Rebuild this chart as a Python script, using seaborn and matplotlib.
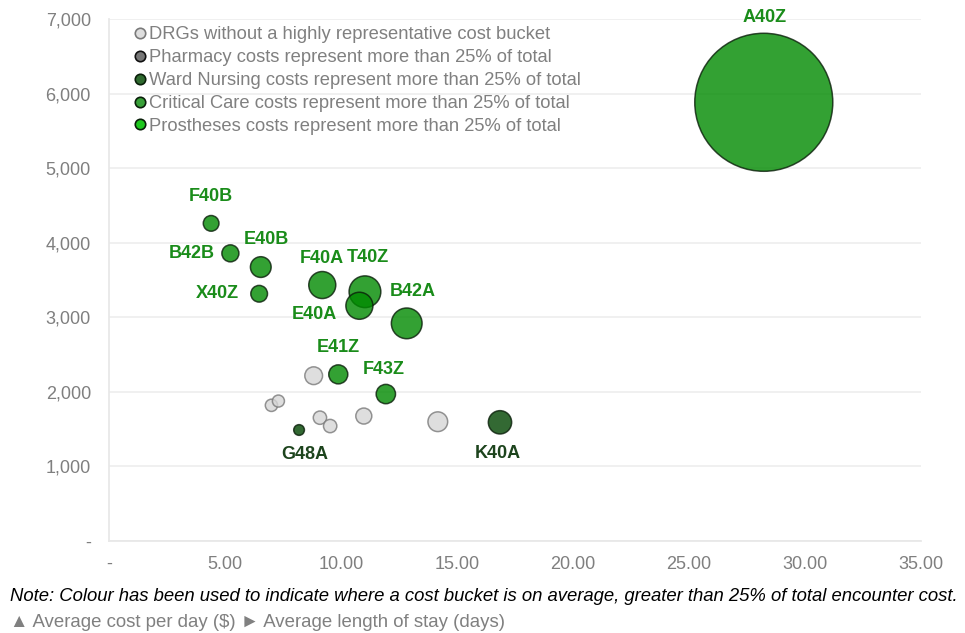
import pandas as pd
import matplotlib
matplotlib.use("Agg")
import matplotlib.pyplot as plt
import seaborn as sns
from matplotlib.lines import Line2D
from matplotlib.ticker import FuncFormatter

sns.set_theme(style="white")
plt.rcParams['font.family'] = ['Liberation Sans', 'DejaVu Sans']

# data
drg = ["A40Z", "F40B", "B42B", "E40B", "X40Z", "F40A", "T40Z", "E40A", "B42A",
       "E41Z", "F43Z", "", "", "", "", "", "", "", "G48A", "K40A"]
los = [28.22, 4.40, 5.23, 6.54, 6.47, 9.19, 11.03, 10.79, 12.83,
       9.88, 11.93, 8.82, 7.00, 7.30, 9.09, 9.53, 10.98, 14.17, 8.19, 16.85]
cost_per_day = [5884, 4260, 3858, 3674, 3316, 3433, 3343, 3155, 2919,
                2235, 1971, 2217, 1820, 1877, 1654, 1542, 1676, 1600, 1489, 1592]
volume = [1000, 12.9, 15.2, 22.5, 14.6, 38.3, 52.8, 38.3, 49.5,
          19.0, 19.6, 16.5, 7.9, 7.6, 9.3, 9.3, 13.4, 20.4, 6.0, 28.5]
group = ["crit"] * 11 + ["none"] * 7 + ["ward"] * 2

legend_labels = {
    "none": "DRGs without a highly representative cost bucket",
    "pharm": "Pharmacy costs represent more than 25% of total",
    "ward": "Ward Nursing costs represent more than 25% of total",
    "crit": "Critical Care costs represent more than 25% of total",
    "pros": "Prostheses costs represent more than 25% of total",
}
fill = {"none": "#d6d6d6", "pharm": "#555555", "ward": "#004400",
        "crit": "#008a00", "pros": "#00c800"}
edge = {"none": "#7a7a7a", "pharm": "#111111", "ward": "#0a1f0a",
        "crit": "#0a1f0a", "pros": "#0a1f0a"}
legend_fill = {"none": "#dedede", "pharm": "#777777", "ward": "#2f6a2f",
               "crit": "#38a038", "pros": "#1ec81e"}

df = pd.DataFrame({"drg": drg, "los": los, "cost": cost_per_day,
                   "vol": volume, "group": group})

fig = plt.figure(figsize=(9.65, 6.33), dpi=100)
ax = fig.add_axes([0.1130, 0.1453, 0.8415, 0.8246])

# bubble area proportional to volume (A40Z ~138 px across)
scale = 9873 / 1000
for g in ["none", "ward", "crit"]:
    sub = df[df["group"] == g]
    sns.scatterplot(data=sub, x="los", y="cost", s=sub["vol"] * scale,
                    color=fill[g], edgecolor=edge[g], linewidth=1.1,
                    alpha=0.8, legend=False, ax=ax, zorder=3)

# labels next to bubbles (offsets in pixels)
offsets = {
    "A40Z": (1, 85, "center"), "F40B": (0, 27, "center"),
    "B42B": (-16, 0, "right"), "E40B": (6, 28, "center"),
    "X40Z": (-20, 0, "right"), "F40A": (0, 27, "center"),
    "T40Z": (3, 34, "center"), "E40A": (-22, -9, "right"),
    "B42A": (6, 32, "center"), "E41Z": (0, 27, "center"),
    "F43Z": (-2, 25, "center"), "G48A": (6, -25, "center"),
    "K40A": (-2, -31, "center"),
}
for _, r in df[df["drg"] != ""].iterrows():
    dx, dy, ha = offsets[r["drg"]]
    col = "#1d441d" if r["group"] == "ward" else "#1a8c1a"
    ax.annotate(r["drg"], (r["los"], r["cost"]), xytext=(dx, dy),
                textcoords="offset pixels", ha=ha, va="center",
                fontsize=13, fontweight="bold", color=col, zorder=4)

ax.set_xlim(0, 35)
ax.set_ylim(0, 7000)
ax.set_xticks(range(0, 36, 5))
ax.set_yticks(range(0, 7001, 1000))
ax.xaxis.set_major_formatter(FuncFormatter(lambda v, p: "-" if v == 0 else f"{v:.2f}"))
ax.yaxis.set_major_formatter(FuncFormatter(lambda v, p: "-" if v == 0 else f"{v:,.0f}"))
ax.set_xlabel("")
ax.set_ylabel("")
ax.yaxis.grid(True, color="#efefef", linewidth=1.3)
ax.set_axisbelow(True)
for s in ["top", "right"]:
    ax.spines[s].set_visible(False)
for s in ["left", "bottom"]:
    ax.spines[s].set_color("#e8e8e8")
    ax.spines[s].set_linewidth(1.3)
ax.tick_params(axis="both", colors="#e8e8e8", labelcolor="#7f7f7f",
               labelsize=13, length=4, width=1.2)
ax.tick_params(axis="y", pad=9)
ax.tick_params(axis="x", pad=7)

handles = [Line2D([], [], marker="o", linestyle="", markersize=7.5,
                  markerfacecolor=legend_fill[k], markeredgecolor=edge[k],
                  markeredgewidth=1.2) for k in legend_labels]
leg = ax.legend(handles, list(legend_labels.values()), loc="upper left",
                bbox_to_anchor=(0.018, 1.0), frameon=False, fontsize=13.2,
                handletextpad=0.0, labelspacing=0.32, handlelength=1.0,
                borderaxespad=0)
for t in leg.get_texts():
    t.set_color("#808080")

fig.text(0.010, 0.058, "Note: Colour has been used to indicate where a cost bucket is on average, "
         "greater than 25% of total encounter cost.", fontsize=13.35, style="italic",
         color="black", va="center", ha="left")
fig.text(0.010, 0.017, "▲ Average cost per day ($) ► Average length of stay (days)",
         fontsize=13.4, color="#808080", va="center", ha="left")

plt.savefig("out.png", dpi=100)
